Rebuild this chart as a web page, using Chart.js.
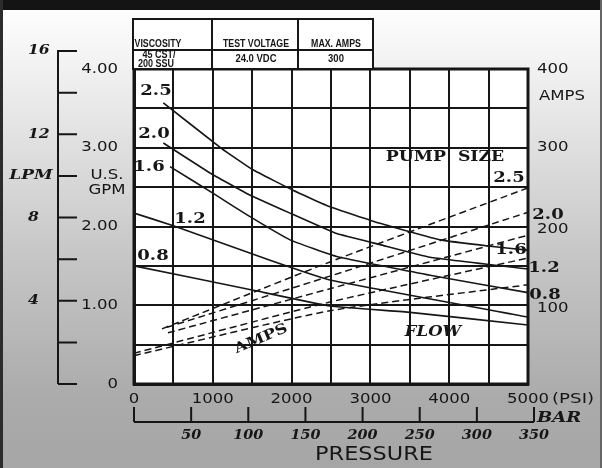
<!DOCTYPE html>
<html>
<head>
<meta charset="utf-8">
<script src="https://cdn.jsdelivr.net/npm/chart.js@4.4.0/dist/chart.umd.min.js"></script>
<style>
    html, body { margin: 0; padding: 0; background: #bbb; }
    canvas { display: block; }
</style>
</head>
<body>
<canvas id="pump-chart" width="602" height="468"></canvas>
<script>
// axis ticks
const psiTicks = [0, 1000, 2000, 3000, 4000, 5000];
const gpmTicks = [0, 1, 2, 3, 4];
const gpmTickText = ['0', '1.00', '2.00', '3.00', '4.00'];
const ampTicks = [100, 200, 300, 400];
const lpmTicks = [0, 2, 4, 6, 8, 10, 12, 14, 16];
const lpmTickText = [4, 8, 12, 16];
const barTicks = [0, 50, 100, 150, 200, 250, 300, 350];
const pumpSizes = ['2.5', '2.0', '1.6', '1.2', '0.8'];

// info table
const tableHeads = ['VISCOSITY', 'TEST VOLTAGE', 'MAX. AMPS'];
const tableValues = [['45 CST/', '200 SSU'], ['24.0 VDC'], ['300']];

// flow curves: [psi, gpm]
const flow25 = [[372, 3.57], [1113, 2.99], [1510, 2.72], [2018, 2.46], [2487, 2.25], [3122, 2.04], [3883, 1.83], [4518, 1.75], [5000, 1.70]];
const flow20 = [[372, 3.06], [964, 2.68], [1430, 2.42], [1980, 2.17], [2572, 1.91], [3122, 1.77], [3756, 1.61], [5000, 1.46]];
const flow16 = [[457, 2.76], [1006, 2.42], [1430, 2.15], [1980, 1.83], [2572, 1.62], [3756, 1.38], [5000, 1.16]];
const flow12 = [[0, 2.17], [499, 2.01], [1726, 1.57], [2487, 1.32], [5000, 0.85]];
const flow08 = [[0, 1.50], [1514, 1.19], [2487, 0.99], [3503, 0.91], [5000, 0.75]];

// current draw: [psi, amps]
const amps25 = [[355, 70], [2487, 155], [5000, 249]];
const amps20 = [[419, 72], [2487, 137], [5000, 218]];
const amps16 = [[431, 65], [2487, 121], [5000, 189]];
const amps12 = [[0, 39], [2487, 104], [5000, 160]];
const amps08 = [[0, 36], [2487, 93], [5000, 126]];

const INK = '#161616';
const LPM_PER_GPM = 3.785;
const PSI_PER_BAR = 14.5038;

function toPoints(pairs) {
    return pairs.map(p => ({ x: p[0], y: p[1] }));
}

function stretchText(ctx, str, x, y, font, align, sx, angle) {
    ctx.save();
    ctx.font = font;
    ctx.fillStyle = INK;
    ctx.textAlign = align;
    ctx.textBaseline = 'middle';
    ctx.translate(x, y);
    if (angle) ctx.rotate(angle);
    ctx.scale(sx, 1);
    ctx.fillText(str, 0, 0);
    ctx.restore();
}

const SANS = '14px "DejaVu Sans", sans-serif';
const SERIF_B = 'bold 15px "DejaVu Serif", serif';
const SERIF_BI = 'bold italic 13px "DejaVu Serif", serif';
const TABLE_FONT = 'bold 10px "Liberation Sans", Arial, sans-serif';

const backgroundPlugin = {
    id: 'paper',
    beforeDraw(chart) {
        const ctx = chart.ctx;
        const w = chart.width, h = chart.height;
        const g = ctx.createLinearGradient(0, 0, 0, h);
        g.addColorStop(0, '#ffffff');
        g.addColorStop(0.12, '#f4f4f4');
        g.addColorStop(0.55, '#c6c6c6');
        g.addColorStop(0.85, '#ababab');
        g.addColorStop(1, '#a6a6a6');
        ctx.save();
        ctx.fillStyle = g;
        ctx.fillRect(0, 0, w, h);
        ctx.fillStyle = '#141414';
        ctx.fillRect(0, 0, w, 10);
        ctx.fillStyle = '#2c2c2c';
        ctx.fillRect(0, 0, 3, h);
        ctx.fillStyle = '#666';
        ctx.fillRect(w - 2, 0, 2, h);
        const a = chart.chartArea;
        ctx.fillStyle = '#ffffff';
        ctx.fillRect(a.left, a.top, a.right - a.left, a.bottom - a.top);
        ctx.restore();
    }
};

const decorPlugin = {
    id: 'decor',
    afterDraw(chart) {
        const ctx = chart.ctx;
        const a = chart.chartArea;
        const xs = chart.scales.x, ys = chart.scales.y, y2 = chart.scales.y2;

        ctx.save();
        ctx.strokeStyle = INK;

        // plot frame
        ctx.lineWidth = 3;
        ctx.strokeRect(a.left, a.top, a.right - a.left, a.bottom - a.top);

        // LPM axis on the far left
        ctx.lineWidth = 2;
        const lpmX = 58;
        ctx.beginPath();
        ctx.moveTo(lpmX, ys.getPixelForValue(16 / LPM_PER_GPM) - 1);
        ctx.lineTo(lpmX, ys.getPixelForValue(0));
        lpmTicks.forEach(v => {
            const py = ys.getPixelForValue(v / LPM_PER_GPM);
            ctx.moveTo(lpmX, py);
            ctx.lineTo(lpmX + 19, py);
        });
        ctx.stroke();
        lpmTickText.forEach(v => {
            stretchText(ctx, String(v), 28, ys.getPixelForValue(v / LPM_PER_GPM), SERIF_BI, 'left', 1.2);
        });
        stretchText(ctx, 'LPM', 31, ys.getPixelForValue(10 / LPM_PER_GPM), SERIF_BI, 'center', 1.3);

        // GPM labels
        gpmTicks.forEach((v, i) => {
            stretchText(ctx, gpmTickText[i], 118, ys.getPixelForValue(v), SANS, 'right', 1.18);
        });
        stretchText(ctx, 'U.S.', 107, 175, SANS, 'center', 1.18);
        stretchText(ctx, 'GPM', 107, 190, SANS, 'center', 1.18);

        // AMPS labels
        ampTicks.forEach(v => {
            const off = v <= 200 ? 3 : 0;
            stretchText(ctx, String(v), 537, y2.getPixelForValue(v) + off, SANS, 'left', 1.18);
        });
        stretchText(ctx, 'AMPS', 539, 96, SANS, 'left', 1.18);

        // PSI labels
        psiTicks.forEach(v => {
            stretchText(ctx, String(v), xs.getPixelForValue(v), 399, SANS, 'center', 1.18);
        });
        stretchText(ctx, '(PSI)', 552, 399, SANS, 'left', 1.3);

        // BAR axis
        const barY = 422;
        ctx.beginPath();
        ctx.moveTo(xs.getPixelForValue(0), barY);
        ctx.lineTo(xs.getPixelForValue(350 * PSI_PER_BAR), barY);
        barTicks.forEach(v => {
            const px = xs.getPixelForValue(v * PSI_PER_BAR);
            ctx.moveTo(px, barY);
            ctx.lineTo(px, barY - 15);
        });
        ctx.stroke();
        barTicks.forEach(v => {
            if (v === 0) return;
            stretchText(ctx, String(v), xs.getPixelForValue(v * PSI_PER_BAR), 436, 'bold italic 12px "DejaVu Serif", serif', 'center', 1.2);
        });
        stretchText(ctx, 'BAR', 537, 418, 'bold italic 15px "DejaVu Serif", serif', 'left', 1.2);
        stretchText(ctx, 'PRESSURE', 374, 455, '20px "DejaVu Sans", sans-serif', 'center', 1.12);

        // pump size labels
        const leftPos = [[156, 91], [154, 134.5], [149, 167], [190, 219.5], [153, 256]];
        const rightPos = [[509, 178], [548, 215], [511, 250], [544, 268], [545, 295]];
        pumpSizes.forEach((s, i) => {
            stretchText(ctx, s, leftPos[i][0], leftPos[i][1], SERIF_B, 'center', 1.2);
            stretchText(ctx, s, rightPos[i][0], rightPos[i][1], SERIF_B, 'center', 1.2);
        });
        stretchText(ctx, 'PUMP  SIZE', 445, 157, SERIF_B, 'center', 1.15);
        stretchText(ctx, 'AMPS', 261, 339, 'bold 14px "DejaVu Serif", serif', 'center', 1.2, -23 * Math.PI / 180);
        stretchText(ctx, 'FLOW', 433, 332, 'bold italic 14px "DejaVu Serif", serif', 'center', 1.18);

        // info table
        const colX = [133, 212, 298, 373];
        const tTop = 19, tMid = 50, tBot = a.top;
        ctx.fillStyle = '#ffffff';
        ctx.fillRect(colX[0], tTop, colX[3] - colX[0], tBot - tTop);
        ctx.lineWidth = 2;
        ctx.strokeRect(colX[0], tTop, colX[3] - colX[0], tBot - tTop);
        ctx.beginPath();
        ctx.moveTo(colX[0], tMid);
        ctx.lineTo(colX[3], tMid);
        ctx.moveTo(colX[1], tTop);
        ctx.lineTo(colX[1], tBot);
        ctx.moveTo(colX[2], tTop);
        ctx.lineTo(colX[2], tBot);
        ctx.stroke();
        const textX = [158, 256, 336];
        tableHeads.forEach((t, i) => {
            stretchText(ctx, t, textX[i], 44.5, TABLE_FONT, 'center', 0.88);
        });
        tableValues.forEach((lines, i) => {
            if (lines.length === 1) {
                stretchText(ctx, lines[0], textX[i], 59, TABLE_FONT, 'center', 0.95);
            } else {
                stretchText(ctx, lines[0], textX[i] + 1, 55, TABLE_FONT, 'center', 0.9);
                stretchText(ctx, lines[1], textX[i] - 2, 64, TABLE_FONT, 'center', 0.9);
            }
        });

        ctx.restore();
    }
};

const flowSeries = [flow25, flow20, flow16, flow12, flow08];
const ampSeries = [amps25, amps20, amps16, amps12, amps08];
const datasets = [];

flowSeries.forEach((s, i) => {
    datasets.push({
        label: 'Flow ' + pumpSizes[i],
        data: toPoints(s),
        yAxisID: 'y',
        borderColor: INK,
        borderWidth: 1.6,
        pointRadius: 0,
        tension: 0.1
    });
});
ampSeries.forEach((s, i) => {
    datasets.push({
        label: 'Amps ' + pumpSizes[i],
        data: toPoints(s),
        yAxisID: 'y2',
        borderColor: INK,
        borderWidth: 1.5,
        borderDash: [7, 4],
        pointRadius: 0,
        tension: 0.2
    });
});

const gridOpts = { color: INK, lineWidth: 2, drawTicks: false };

new Chart(document.getElementById('pump-chart').getContext('2d'), {
    type: 'line',
    data: { datasets: datasets },
    options: {
        responsive: false,
        animation: false,
        devicePixelRatio: 1,
        layout: { padding: { left: 134, right: 74, top: 69, bottom: 84 } },
        plugins: { legend: { display: false }, tooltip: { enabled: false } },
        scales: {
            x: {
                type: 'linear', min: 0, max: 5000,
                ticks: { stepSize: 500, display: false },
                grid: gridOpts,
                border: { color: INK, width: 3 }
            },
            y: {
                min: 0, max: 4,
                ticks: { stepSize: 0.5, display: false },
                grid: gridOpts,
                border: { color: INK, width: 3 }
            },
            y2: {
                position: 'right', min: 0, max: 400,
                display: false
            }
        }
    },
    plugins: [backgroundPlugin, decorPlugin]
});
</script>
</body>
</html>
